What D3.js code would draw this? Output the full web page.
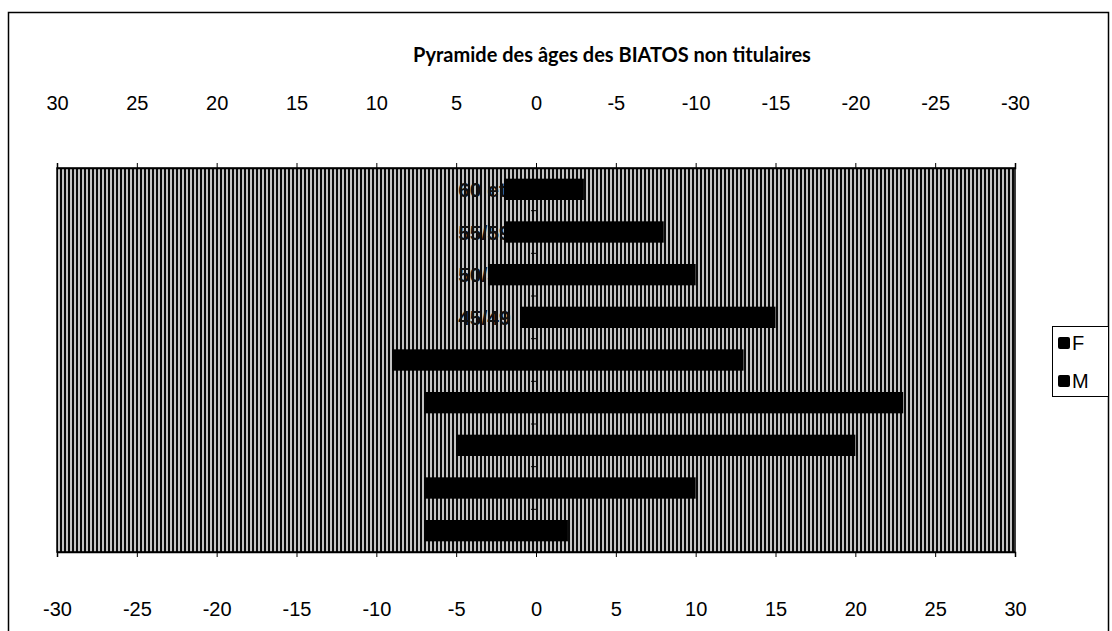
<!DOCTYPE html>
<html><head><meta charset="utf-8">
<script src="https://cdn.jsdelivr.net/npm/d3@7"></script>
<style>body{margin:0;background:#fff;overflow:hidden}</style></head>
<body><svg id="c" width="1112" height="631"></svg>
<script>
const categories = ["60 et +","55/59","50/54","45/49","40/44","35/39","30/34","25/29","20/24"];
const valuesF = [-2,-2,-3,-1,-9,-7,-5,-7,-7];
const valuesM = [3,8,10,15,13,23,20,10,2];
const tickValues = [-30,-25,-20,-15,-10,-5,0,5,10,15,20,25,30];
const seriesNames = ["F","M"];
const chartTitle = "Pyramide des âges des BIATOS non titulaires";

const svg = d3.select("#c");
const L = 57, R = 1015, T = 168, B = 552;
const FONT = "'Liberation Sans', Arial, sans-serif";

// outer frame
svg.append("rect").attr("x",8.5).attr("y",12.5).attr("width",1100).attr("height",700)
  .attr("fill","#fff").attr("stroke","#000").attr("stroke-width",1.5);

// hatch pattern
const defs = svg.append("defs");
const pat = defs.append("pattern").attr("id","hatch").attr("patternUnits","userSpaceOnUse")
  .attr("width",4).attr("height",4);
pat.append("rect").attr("width",4).attr("height",4).attr("fill","#c4c4c4");
pat.append("rect").attr("width",2).attr("height",4).attr("fill","#0a0a0a");

const x = d3.scaleLinear().domain([-30,30]).range([L,R]);
const xTop = d3.scaleLinear().domain([30,-30]).range([L,R]);
const y = d3.scaleBand().domain(categories).range([T,B]).paddingInner(0.5).paddingOuter(0.25);

svg.append("rect").attr("x",L).attr("y",T).attr("width",R-L).attr("height",B-T)
  .attr("fill","url(#hatch)").attr("stroke","#000").attr("stroke-width",1.5);

// title
svg.append("text").attr("x",(L+R)/2 + 76).attr("y",57).attr("text-anchor","middle")
  .attr("dominant-baseline","middle")
  .style("font-family","Lato, sans-serif").style("font-weight","bold").style("font-size","20px")
  .text(chartTitle);

// category labels (drawn under bars)
svg.append("g").selectAll("text").data(categories).join("text")
  .attr("x", x(-5)+2).attr("y", d => y(d)+y.bandwidth()/2)
  .attr("dominant-baseline","central")
  .style("font-family",FONT).style("font-size","21px")
  .style("font-weight","bold").attr("fill","#111")
  .text(d => d);

// bars
const rows = categories.map((c,i)=>({c, f:valuesF[i], m:valuesM[i]}));
svg.append("g").selectAll("rect.f").data(rows).join("rect").attr("class","f")
  .attr("x", d => x(d.f)).attr("width", d => x(0)-x(d.f))
  .attr("y", d => y(d.c)).attr("height", y.bandwidth()).attr("fill","#000");
svg.append("g").selectAll("rect.m").data(rows).join("rect").attr("class","m")
  .attr("x", x(0)).attr("width", d => x(d.m)-x(0))
  .attr("y", d => y(d.c)).attr("height", y.bandwidth()).attr("fill","#000");

// category axis ticks at 0
const step = y.step();
svg.append("g").selectAll("line").data(categories.slice(1)).join("line")
  .attr("x1", x(0)-5).attr("x2", x(0)).attr("y1", d => y(d)-y.paddingInner()*step/2)
  .attr("y2", d => y(d)-y.paddingInner()*step/2).attr("stroke","#000");

// axes
const fmt = d => String(d);
const fontAxis = g => g.selectAll("text").style("font-family",FONT)
  .style("font-size","20px").attr("fill","#000");
const gb = svg.append("g").attr("transform",`translate(0,${B})`)
  .call(d3.axisBottom(x).tickValues(tickValues).tickSize(5).tickFormat(fmt));
gb.call(fontAxis); gb.select(".domain").attr("stroke-width",1.5);
gb.selectAll("text").attr("dy",null).attr("dominant-baseline","central").attr("y",57);
const gt = svg.append("g").attr("transform",`translate(0,${T})`)
  .call(d3.axisTop(xTop).tickValues(tickValues).tickSize(5).tickFormat(fmt));
gt.call(fontAxis); gt.select(".domain").attr("stroke-width",1.5);
gt.selectAll("text").attr("dy",null).attr("dominant-baseline","central").attr("y",-65);

// legend
const lg = svg.append("g");
lg.append("rect").attr("x",1052.5).attr("y",326.5).attr("width",56).attr("height",70)
  .attr("fill","#fff").attr("stroke","#000");
const li = lg.selectAll("g").data(seriesNames).join("g")
  .attr("transform",(d,i)=>`translate(1058,${343+i*38})`);
li.append("rect").attr("x",0).attr("y",-6).attr("width",12).attr("height",12).attr("rx",2).attr("fill","#000");
li.append("text").attr("x",14).attr("y",0).attr("dominant-baseline","central")
  .style("font-family",FONT).style("font-size","20px").text(d=>d);
</script></body></html>
